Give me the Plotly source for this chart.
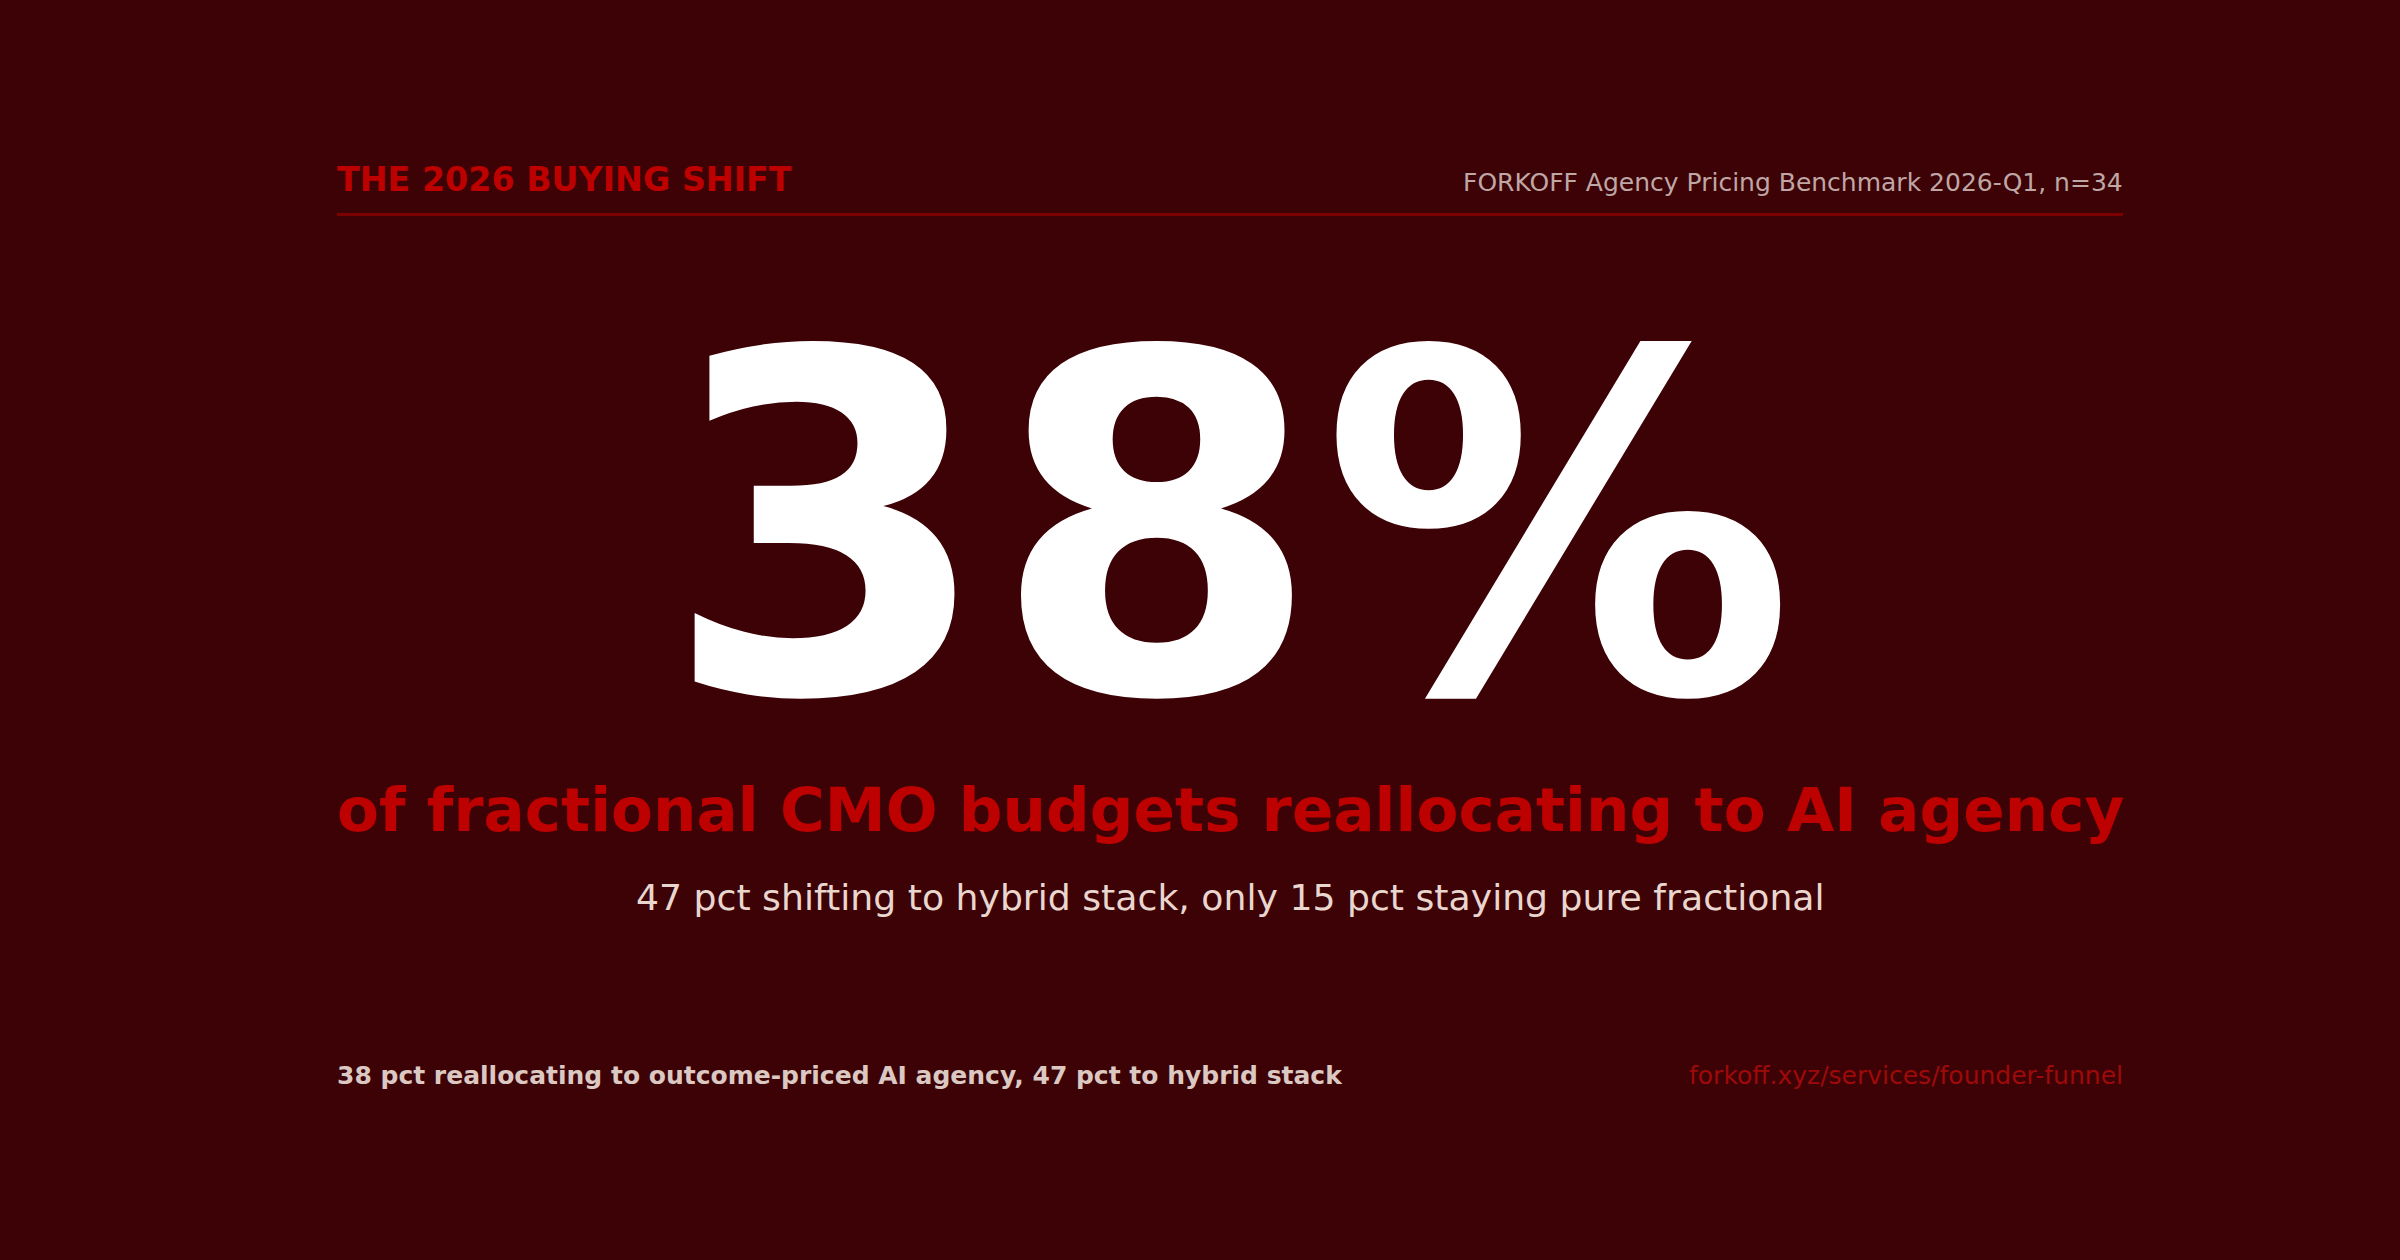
import plotly.graph_objects as go

# text content of the card
kicker = "THE 2026 BUYING SHIFT"
source = "FORKOFF Agency Pricing Benchmark 2026-Q1, n=34"
headline_value = 38
headline_unit = "%"
headline_label = "of fractional CMO budgets reallocating to AI agency"
detail = "47 pct shifting to hybrid stack, only 15 pct staying pure fractional"
footer_note = "38 pct reallocating to outcome-priced AI agency, 47 pct to hybrid stack"
footer_link = "forkoff.xyz/services/founder-funnel"

W, H = 2400, 1260
LEFT, RIGHT = 337, 2123
MID = (LEFT + RIGHT) / 2

BG = "#3d0205"
RED = "#bd0000"
FONT = "DejaVu Sans"

fig = go.Figure()

# thin rule under the header
fig.add_shape(type="line", x0=LEFT, x1=RIGHT, y0=214.5, y1=214.5,
              line=dict(color="#7d0000", width=3))


def label(x, y, text, size, color, anchor="left", bold=False):
    fig.add_annotation(
        x=x, y=y, text=text, showarrow=False,
        xanchor=anchor, yanchor="middle",
        font=dict(family=FONT, size=size, color=color,
                  weight="bold" if bold else "normal"),
    )


label(LEFT - 2, 179, kicker, 33.3, RED, bold=True)
label(RIGHT + 2, 182, source, 25, "#bfa7a6", anchor="right")
label(MID - 1, 528, f"{headline_value}{headline_unit}", 473, "#ffffff",
      anchor="center", bold=True)
label(MID, 809, headline_label, 61.1, RED, anchor="center", bold=True)
label(MID, 897, detail, 36.2, "#e9d6cf", anchor="center")
label(LEFT - 2, 1075, footer_note, 25, "#dcc8c2", bold=True)
label(RIGHT + 2, 1075, footer_link, 25, "#9e0a0a", anchor="right")

fig.update_xaxes(range=[0, W], visible=False, fixedrange=True)
fig.update_yaxes(range=[H, 0], visible=False, fixedrange=True)
fig.update_layout(
    width=W, height=H,
    margin=dict(l=0, r=0, t=0, b=0),
    paper_bgcolor=BG, plot_bgcolor=BG,
    showlegend=False,
)

fig.write_html(
    "out.html",
    config={"displayModeBar": False},
    post_script="document.body.style.margin='0';document.body.style.overflow='hidden';",
)
